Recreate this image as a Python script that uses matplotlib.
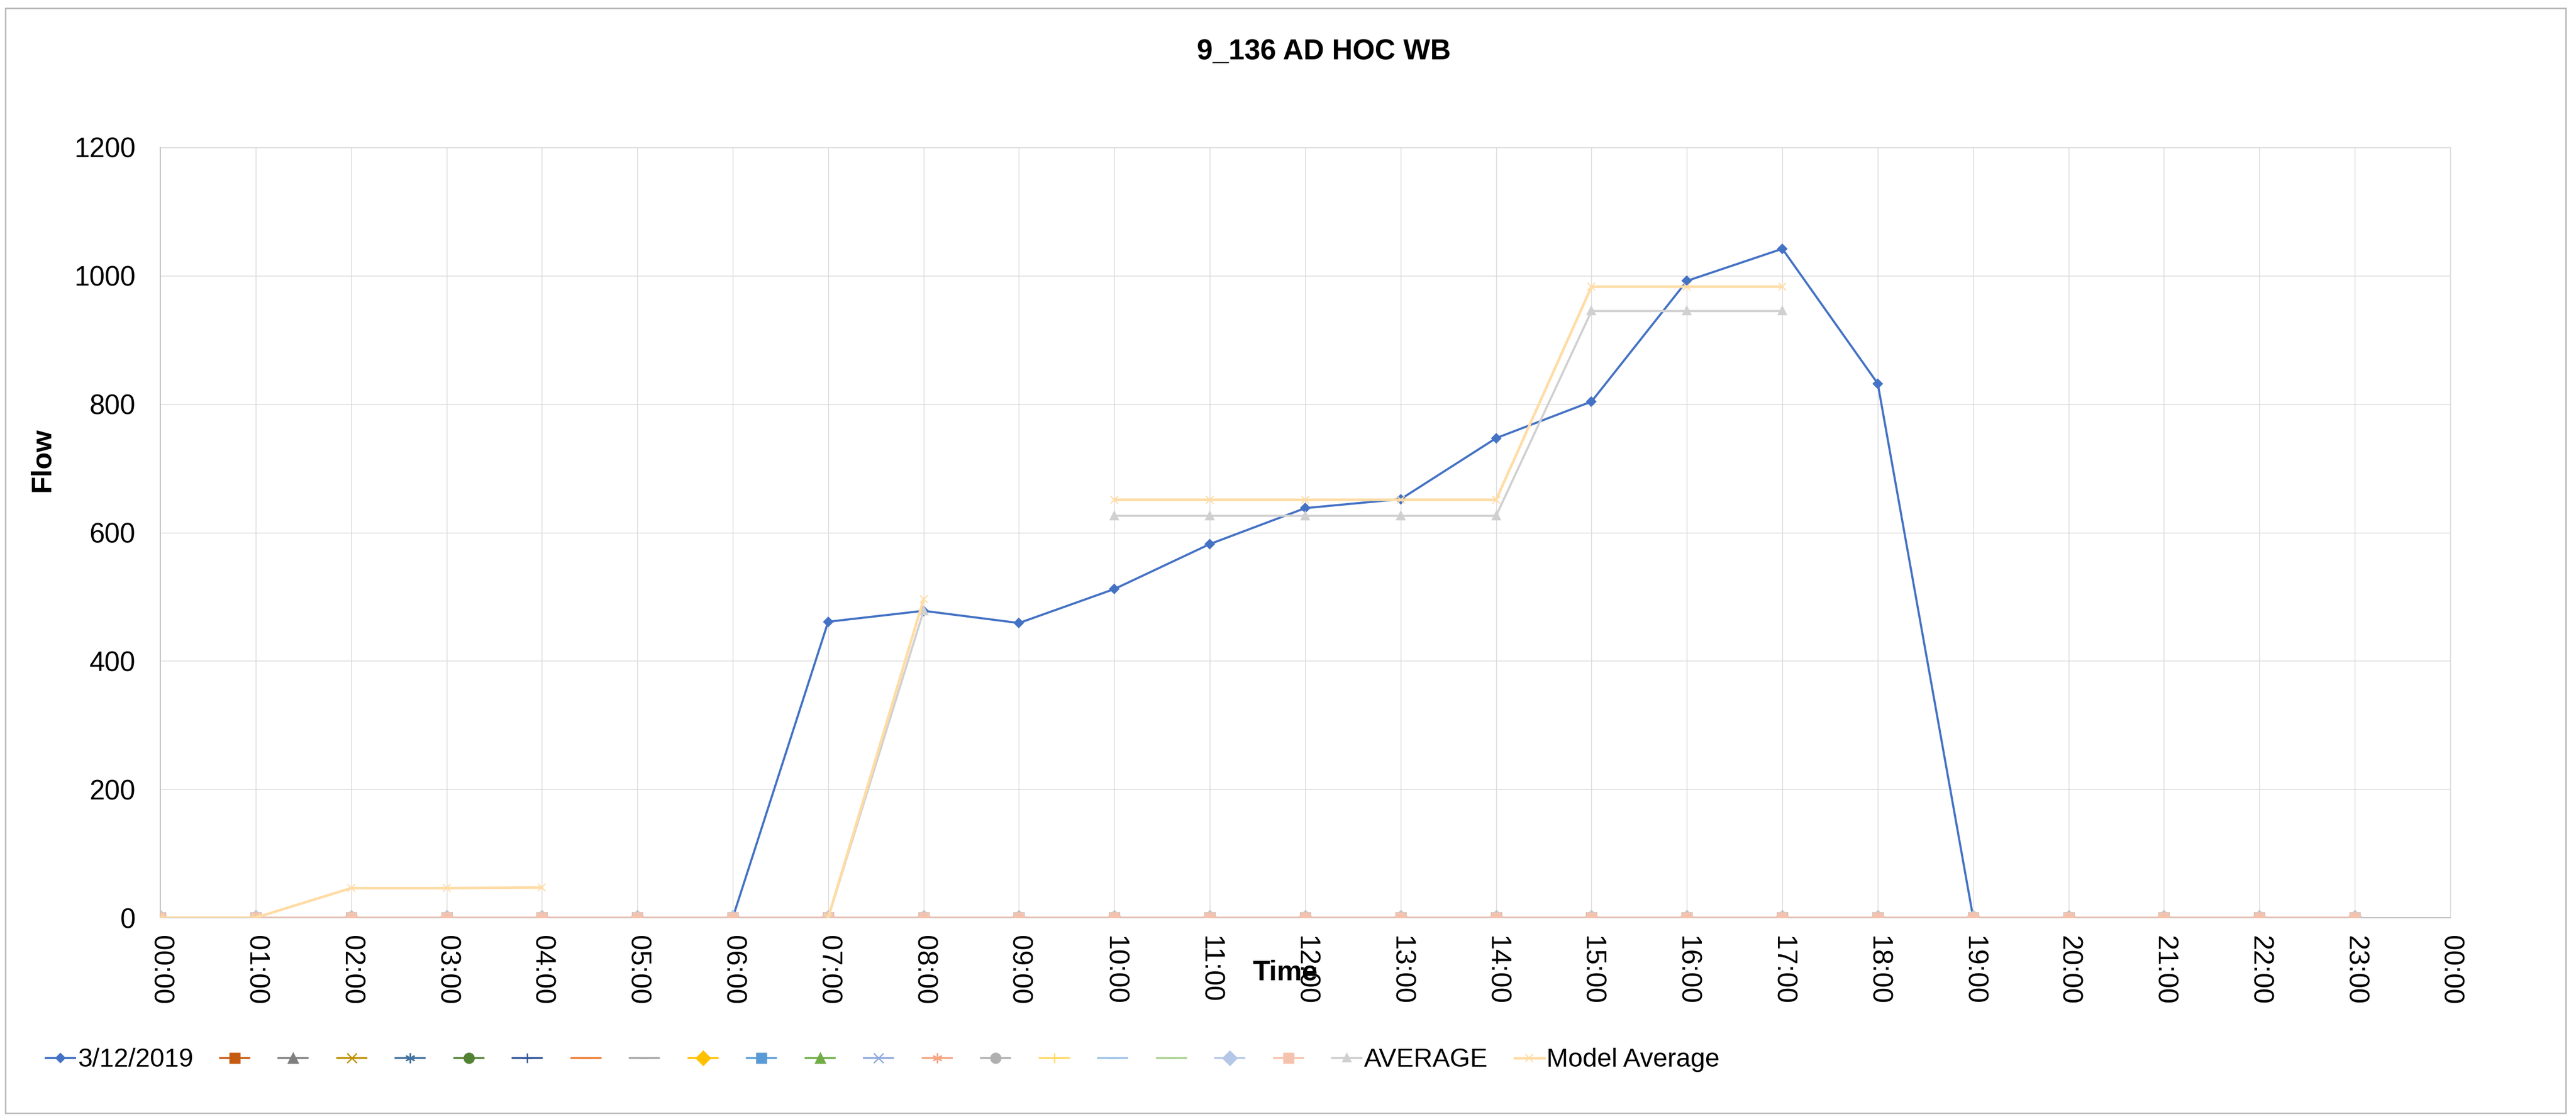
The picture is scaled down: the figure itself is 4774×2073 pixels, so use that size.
import numpy as np
import matplotlib
matplotlib.use("Agg")
import matplotlib.pyplot as plt
from matplotlib.patches import Rectangle

plt.rcParams['font.family'] = ['Liberation Sans', 'DejaVu Sans']

nan = np.nan
hours = list(range(24))
tick_labels = ["00:00", "01:00", "02:00", "03:00", "04:00", "05:00", "06:00", "07:00",
               "08:00", "09:00", "10:00", "11:00", "12:00", "13:00", "14:00", "15:00",
               "16:00", "17:00", "18:00", "19:00", "20:00", "21:00", "22:00", "23:00", "00:00"]

flow_0312 = [0, 0, 0, 0, 0, 0, 0, 461, 478, 459, 512, 582,
             638, 652, 747, 804, 992, 1042, 832, 0, 0, 0, 0, 0]
average = [nan, nan, nan, nan, nan, nan, nan, 0, 478, nan, 626, 626,
           626, 626, 626, 945, 945, 945, nan, nan, nan, nan, nan, nan]
model_average = [0, 0, 46, 46, 47, nan, nan, 0, 496, nan, 651, 651,
                 651, 651, 651, 983, 983, 983, nan, nan, nan, nan, nan, nan]
# days with no counts recorded
empty_day = [0, 0, 0, 0, 0, 0, 0, 0, 0, 0, 0, 0,
             0, 0, 0, 0, 0, 0, 0, 0, 0, 0, 0, 0]

star = (6, 2, 0)
# (colour, marker) for the unlabelled day series, in sheet order
blank_styles = [
    ("#C55A11", "s"), ("#7F7F7F", "^"), ("#BF9000", "x"), ("#41719C", star),
    ("#548235", "o"), ("#2F5597", "+"), ("#ED7D31", "_"), ("#A5A5A5", "_"),
    ("#FFC000", "D"), ("#5B9BD5", "s"), ("#70AD47", "^"), ("#8FAADC", "x"),
    ("#F4A582", star), ("#B0B0B0", "o"), ("#FFD966", "+"), ("#9DC3E6", "_"),
    ("#A9D18E", "_"), ("#B4C7E7", "D"), ("#F5C2AE", "s"),
]

W, H = 4774, 2073
fig = plt.figure(figsize=(W / 300, H / 300), dpi=300)
ax = fig.add_axes([297 / W, 1 - 1700 / H, (4541 - 297) / W, (1700 - 273) / H])

handles, labels = [], []
l, = ax.plot(hours, flow_0312, color="#4472C4", lw=0.95, marker="D", ms=2.3, zorder=3)
handles.append(l); labels.append("3/12/2019")
for c, m in blank_styles:
    l, = ax.plot(hours, empty_day, color=c, lw=0.85, marker=m, ms=4.4, mew=0.6, zorder=3)
    handles.append(l); labels.append("")
l, = ax.plot(hours, average, color="#D0D0D0", lw=0.95, marker="^", ms=3.0, zorder=3)
handles.append(l); labels.append("AVERAGE")
l, = ax.plot(hours, model_average, color="#FFDCA5", lw=1.15, marker="x", ms=3.4, mew=0.5, zorder=3)
handles.append(l); labels.append("Model Average")

ax.set_xlim(0, 24)
ax.set_ylim(0, 1200)
ax.set_xticks(range(25))
ax.set_xticklabels(tick_labels, rotation=-90, fontsize=12.3)
ax.set_yticks(range(0, 1201, 200))
ax.tick_params(axis='y', labelsize=12.3, length=0, pad=11)
ax.tick_params(axis='x', length=0, pad=8)
ax.grid(True, color="#D9D9D9", lw=0.35)
ax.set_axisbelow(True)
for s in ("top", "right"):
    ax.spines[s].set_color("#D9D9D9")
    ax.spines[s].set_linewidth(0.35)
for s in ("left", "bottom"):
    ax.spines[s].set_color("#BFBFBF")
    ax.spines[s].set_linewidth(0.5)

fig.text(2453 / W, 1 - 96 / H, "9_136 AD HOC WB", ha="center", va="center",
         fontsize=12.7, fontweight="bold")
fig.text(78 / W, 1 - 852 / H, "Flow", rotation=90, ha="center", va="center",
         fontsize=12.5, fontweight="bold")
fig.text(2382 / W, 1 - 1802 / H, "Time", ha="center", va="center",
         fontsize=12.5, fontweight="bold")

fig.legend(handles, labels, loc="center left", bbox_to_anchor=(85 / W, 1 - 1964 / H),
           ncol=len(handles), frameon=False, fontsize=11.6, handlelength=1.12,
           handletextpad=0.1, columnspacing=1.025, borderpad=0, borderaxespad=0)

fig.add_artist(Rectangle((10 / W, 11 / H), (4755 - 10) / W, (2058 - 11) / H,
                         transform=fig.transFigure, fill=False, ec="#B4B4B4", lw=0.6))

fig.savefig("out.png", dpi=300, facecolor="white")
